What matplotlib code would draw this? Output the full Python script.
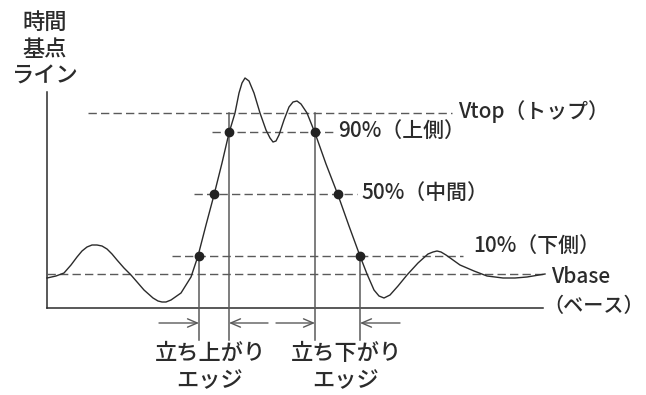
import matplotlib.pyplot as plt

plt.rcParams['font.family'] = ['Noto Sans CJK JP', 'DejaVu Sans']

# waveform (diagram units, y grows downward)
wave_x = [47, 56, 64, 71, 77, 82, 87, 92, 97, 102, 107, 112, 117, 124, 131, 144, 153, 158,
          162, 166, 171, 181, 191, 198, 206, 214, 222, 229, 235, 239, 242, 245, 249, 254,
          260, 266, 270, 273, 276, 279, 284, 289, 293, 297, 301, 307, 315, 326, 338, 349,
          360, 367, 374, 379, 384, 390, 398, 407, 418, 428, 433, 437, 441, 446, 460, 474,
          487, 503, 515, 527, 545]
wave_y = [278, 276, 273, 265, 257, 251, 247, 245, 245, 246, 249, 254, 260, 268, 275, 290,
          298, 301, 302, 302, 300, 293, 277, 256, 225, 195, 163, 133, 113, 93, 83, 78, 81,
          93, 113, 130, 138, 142, 141, 135, 120, 107, 102, 101, 104, 113, 133, 164, 195,
          226, 256, 274, 290, 296, 298, 295, 286, 275, 263, 254, 252, 251, 252, 255, 265,
          271, 276, 278, 278, 277, 274]

# reference levels
level_y = [113, 132, 194, 256, 274]
level_x0 = [88, 212, 194, 172, 47]
level_x1 = [452, 335, 357, 463, 547]
level_labels = ['Vtop（トップ）', '90%（上側）', '50%（中間）', '10%（下側）', 'Vbase']
label_x = [458, 338, 361, 473, 551]
label_y = [112, 131, 193, 246, 277]

# threshold crossings
cross_x = [199, 214, 229, 315, 338, 360]
cross_y = [256, 194, 132, 132, 194, 256]

# edge marker lines and arrows
edge_x = [199, 229, 315, 360]
edge_top = [256, 113, 113, 256]
arrow_from = [159, 268, 276, 400]
edge_labels = ['立ち上がり\nエッジ', '立ち下がり\nエッジ']
edge_label_x = [210, 346]

fig = plt.figure(figsize=(6.46, 3.95), dpi=100)
ax = fig.add_axes([0, 0, 1, 1])
ax.set_xlim(0, 646)
ax.set_ylim(395, 0)
ax.axis('off')

ink = '#2b2b2b'
grey = '#5a5a5a'

# axes of the diagram
ax.plot([47, 47], [92, 308], color=ink, lw=1.1)
ax.plot([47, 543], [308, 308], color=ink, lw=1.1)

for y, x0, x1 in zip(level_y, level_x0, level_x1):
    ax.plot([x0, x1], [y, y], color=grey, lw=1.0, dashes=(6, 3))

for x, top in zip(edge_x, edge_top):
    ax.plot([x, x], [top, 340], color=grey, lw=1.1)

ax.plot(wave_x, wave_y, color=ink, lw=1.0)
ax.plot(cross_x, cross_y, 'o', color='#222222', ms=6)

for x, x_from in zip(edge_x, arrow_from):
    ax.annotate('', xy=(x, 323), xytext=(x_from, 323),
                arrowprops=dict(arrowstyle='->,head_length=0.7,head_width=0.3',
                                color=grey, lw=1.0, shrinkA=0, shrinkB=0))

for txt, x, y in zip(level_labels, label_x, label_y):
    ax.text(x, y, txt, fontsize=15, fontweight='medium', color=ink,
            ha='left', va='center')
ax.text(644, 306, '（ベース）', fontsize=14.5, fontweight='medium', color=ink,
        ha='right', va='center')

for txt, x in zip(edge_labels, edge_label_x):
    ax.text(x, 367, txt, fontsize=16, fontweight='medium', color=ink,
            ha='center', va='center', linespacing=1.2)

ax.text(45, 49, '時間\n基点\nライン', fontsize=16, fontweight='medium', color=ink,
        ha='center', va='center', linespacing=1.2)

fig.savefig('out.png', dpi=100)
